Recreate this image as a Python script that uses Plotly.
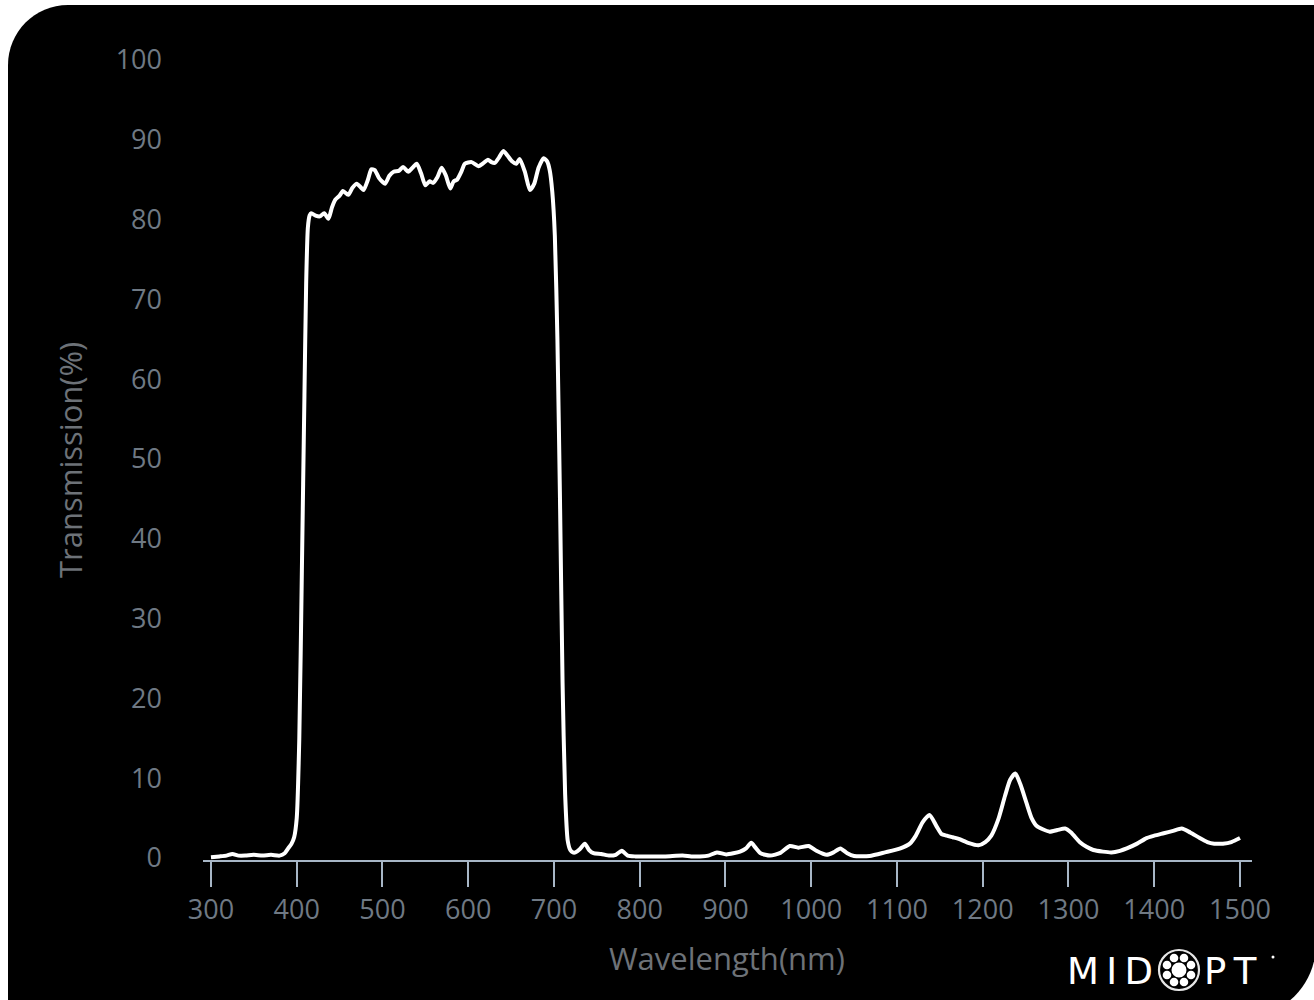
import math
import plotly.graph_objects as go

wavelength = [300, 310, 318, 325, 332, 340, 350, 360, 370, 380, 386, 390, 394, 397, 400, 403, 406, 409, 411, 413, 415, 417,
              422, 427, 432, 437, 441, 445, 450, 454, 460, 465, 470, 475, 478, 483, 487, 491, 496, 503, 508, 513, 519, 524,
              530, 535, 540, 545, 550, 555, 559, 564, 569, 574, 579, 583, 587, 592, 596, 604, 612, 618, 623, 627, 631, 636,
              641, 646, 651, 656, 660, 666, 672, 677, 682, 688, 692, 695, 698, 701, 704, 707, 710, 713, 716, 719, 722, 725,
              730, 736, 741, 746, 755, 765, 772, 779, 786, 795, 810, 830, 850, 860, 870, 880, 890, 901, 917, 924, 930, 935,
              941, 952, 964, 975, 985, 997, 1006, 1018, 1026, 1034, 1042, 1050, 1068, 1086, 1104, 1115, 1122, 1130, 1138,
              1146, 1152, 1158, 1165, 1172, 1183, 1195, 1203, 1210, 1218, 1226, 1232, 1238, 1244, 1251, 1257, 1263, 1270,
              1278, 1287, 1296, 1303, 1313, 1321, 1329, 1340, 1350, 1360, 1368, 1380, 1391, 1400, 1411, 1422, 1432, 1442,
              1453, 1462, 1470, 1480, 1490, 1500]

transmission = [0.1, 0.2, 0.3, 0.5, 0.3, 0.3, 0.4, 0.3, 0.4, 0.3, 0.6, 1.2, 1.8, 2.6, 5, 15, 36, 58, 72, 79, 80.5, 80.8,
                80.5, 80.4, 80.8, 80.1, 81.5, 82.5, 83.0, 83.6, 83.1, 84.0, 84.5, 84.0, 83.7, 85.0, 86.3, 86.2, 85.2, 84.5,
                85.5, 86.0, 86.1, 86.6, 86.0, 86.5, 87.0, 85.8, 84.3, 84.8, 84.6, 85.3, 86.5, 85.5, 83.9, 84.8, 85.0, 86.0,
                87.0, 87.2, 86.7, 87.1, 87.5, 87.2, 87.1, 87.8, 88.6, 88.0, 87.3, 87.0, 87.6, 86.0, 83.7, 84.5, 86.5, 87.7,
                87.3, 86.2, 83.5, 78, 65, 45, 22, 8, 2.2, 1.0, 0.7, 0.7,
                1.1, 1.8, 1.0, 0.6, 0.5, 0.3, 0.4, 0.9, 0.3, 0.2, 0.2, 0.2, 0.3, 0.2, 0.2, 0.3, 0.7, 0.45, 0.8, 1.2, 1.9, 1.3,
                0.6, 0.3, 0.65, 1.5, 1.3, 1.5, 0.9, 0.4, 0.7, 1.2, 0.6, 0.25, 0.25, 0.7, 1.2, 1.8, 2.8, 4.5, 5.4,
                4.0, 3.0, 2.8, 2.6, 2.4, 1.9, 1.6, 2.0, 2.8, 4.8, 7.8, 9.8, 10.6, 9.2, 6.9, 5.0, 4.0, 3.6,
                3.3, 3.5, 3.7, 3.2, 2.0, 1.4, 1.0, 0.8, 0.7, 0.9, 1.2, 1.8, 2.5, 2.8, 3.1, 3.4, 3.7, 3.2,
                2.5, 2.0, 1.8, 1.8, 2.0, 2.5]

x_ticks = [300, 400, 500, 600, 700, 800, 900, 1000, 1100, 1200, 1300, 1400, 1500]
y_ticks = [0, 10, 20, 30, 40, 50, 60, 70, 80, 90, 100]

W, H = 1314, 1000
L, R, T, B = 203, 62, 60, 140
PW, PH = W - L - R, H - T - B


def px(x):
    return (x - L) / PW


def py(y):
    return (H - B - y) / PH


def pt(x, y):
    return f"{px(x):.5f},{py(y):.5f}"


# Black rounded panel (top-left and bottom-right rounded)
k = 0.5523
r1 = 60
r2 = 74
x0, y0, x1, y1 = 8, 5, 1316, 1018
path = (f"M {pt(x0, y1)} L {pt(x0, y0 + r1)} "
        f"C {pt(x0, y0 + r1 - k * r1)} {pt(x0 + r1 - k * r1, y0)} {pt(x0 + r1, y0)} "
        f"L {pt(x1, y0)} L {pt(x1, y1 - r2)} "
        f"C {pt(x1, y1 - r2 + k * r2)} {pt(x1 - r2 + k * r2, y1)} {pt(x1 - r2, y1)} Z")

shapes = [dict(type="path", xref="paper", yref="paper", path=path,
               fillcolor="black", line=dict(width=0), layer="below")]

# Logo ring
cx, cy = 1179, 970
ring_r = 20


def circ(x, y, r, fill, lw=0, lc="white"):
    return dict(type="circle", xref="paper", yref="paper",
                x0=px(x - r), x1=px(x + r), y0=py(y + r), y1=py(y - r),
                fillcolor=fill, line=dict(width=lw, color=lc), layer="above")


shapes.append(circ(cx, cy, ring_r, "rgba(0,0,0,0)", 2.2, "#e6e6e6"))
shapes.append(circ(cx, cy, 7.5, "white"))
for i in range(8):
    a = i * math.pi / 4 + math.pi / 8
    shapes.append(circ(cx + 13 * math.cos(a), cy + 13 * math.sin(a), 4.3, "white"))
shapes.append(circ(1273, 957, 1.5, "white"))

fig = go.Figure()
fig.add_trace(go.Scatter(x=wavelength, y=transmission, mode="lines",
                         line=dict(color="white", width=4, shape="spline", smoothing=0.6),
                         hoverinfo="x+y"))

tick_font = dict(family="Open Sans, Lato, sans-serif", size=27, color="#6f7984")
title_font = dict(family="Open Sans, Lato, sans-serif", size=31, color="#6d7278")
logo_font = dict(family="DejaVu Sans, sans-serif", size=37, color="white")

annotations = [
    dict(text="Wavelength(nm)", xref="paper", yref="paper", x=px(727), y=py(958),
         xanchor="center", yanchor="middle", showarrow=False, font=title_font),
    dict(text="Transmission(%)", xref="paper", yref="paper", x=px(70), y=py(460),
         xanchor="center", yanchor="middle", showarrow=False, textangle=-90, font=title_font),
    dict(text="M\u2009I\u2009D", xref="paper", yref="paper", x=px(1155), y=py(971),
         xanchor="right", yanchor="middle", showarrow=False, font=logo_font),
    dict(text="P\u2009T", xref="paper", yref="paper", x=px(1202), y=py(971),
         xanchor="left", yanchor="middle", showarrow=False, font=logo_font),
]

fig.update_layout(
    width=W, height=H,
    margin=dict(l=L, r=R, t=T, b=B),
    paper_bgcolor="white",
    plot_bgcolor="black",
    showlegend=False,
    shapes=shapes,
    annotations=annotations,
    xaxis=dict(range=[290.7, 1514], tickvals=x_ticks, ticktext=[str(v) for v in x_ticks],
               showgrid=False, zeroline=False, showline=True, linecolor="#a7b6c6", linewidth=2,
               ticks="outside", ticklen=25, tickwidth=2, tickcolor="#a7b6c6",
               tickfont=tick_font, fixedrange=True),
    yaxis=dict(range=[-0.25, 100], tickvals=y_ticks, ticktext=[str(v) for v in y_ticks],
               showgrid=False, zeroline=False, showline=False, ticks="",
               ticklabelstandoff=40, tickfont=tick_font, fixedrange=True),
)

fig.write_html("out.html", config={"displayModeBar": False},
               post_script="document.body.style.margin='0';document.body.style.overflow='hidden';")
